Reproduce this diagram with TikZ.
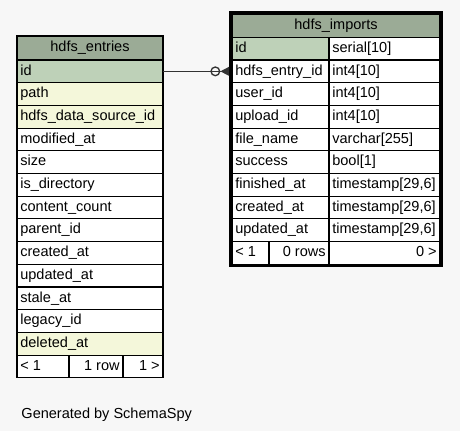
\documentclass[tikz,border=0pt]{standalone}
\usepackage{fontspec}
\setmainfont{Liberation Sans}
\usetikzlibrary{arrows.meta,positioning,fit}
\definecolor{hdrgreen}{HTML}{9BAB96}
\definecolor{pkgreen}{HTML}{BED1B8}
\definecolor{idxyellow}{HTML}{F4F7DA}
\definecolor{pagegray}{HTML}{F7F7F7}
\definecolor{linkgray}{HTML}{333333}

\begin{document}
\begin{tikzpicture}[x=0.75pt, y=-0.75pt,
    every node/.style={font=\fontsize{10.9}{13}\selectfont, inner ysep=0pt, outer sep=0pt, text height=8pt, text depth=2.4pt},
    cell/.style={draw=black, line width=0.8pt, anchor=north west, minimum height=17.03pt, fill=white, inner xsep=2.5pt},
    lcell/.style={cell, text width=#1, align=flush left},
    rcell/.style={cell, text width=#1, align=flush right},
    hdr/.style={cell, fill=hdrgreen, text width=#1, align=center},
    pk/.style={fill=pkgreen}, idx/.style={fill=idxyellow}, nofill/.style={fill=white}]
        \fill[pagegray] (0,0) rectangle (460,431);
        \useasboundingbox (0,0) rectangle (460,431);

        % hdfs_entries
        \node[hdr=104.5pt, minimum height=18pt] (eh) at (17,36) {hdfs\_entries};
        \foreach \name/\sty [count=\i] in {id/pk, path/idx, hdfs\_data\_source\_id/idx, modified\_at/nofill, size/nofill,
            is\_directory/nofill, content\_count/nofill, parent\_id/nofill, created\_at/nofill, updated\_at/nofill,
            stale\_at/nofill, legacy\_id/nofill, deleted\_at/idx} {
            \node[lcell=104.5pt, \sty] (e\i) at (17,{60+(\i-1)*22.7}) {\name};
        }
        \node[lcell=34pt] (efoot1) at (17,355.1) {< 1};
        \node[rcell=35.5pt] (efoot2) at (69,355.1) {1 row};
        \node[rcell=25pt] (efoot3) at (123,355.1) {1 >};

        % hdfs_imports
        \node[hdr=151pt, minimum height=17.1pt] (ih) at (232,14.5) {hdfs\_imports};
        \foreach \name/\type/\sty [count=\i] in {id/{serial[10]}/pk, hdfs\_entry\_id/{int4[10]}/nofill,
            user\_id/{int4[10]}/nofill, upload\_id/{int4[10]}/nofill, file\_name/{varchar[255]}/nofill,
            success/{bool[1]}/nofill, finished\_at/{timestamp[29,6]}/nofill, created\_at/{timestamp[29,6]}/nofill,
            updated\_at/{timestamp[29,6]}/nofill} {
            \node[lcell=67.75pt, \sty] (i\i) at (232,{37.3+(\i-1)*22.7}) {\name};
            \node[lcell=78.25pt] (t\i) at (329,{37.3+(\i-1)*22.7}) {\type};
        }
        \node[lcell=22.75pt] (ifoot1) at (232,241.6) {< 1};
        \node[rcell=40pt] (ifoot2) at (269,241.6) {0 rows};
        \node[rcell=78.25pt] (ifoot3) at (329,241.6) {0 >};
        \node[draw=black, line width=2.25pt, inner sep=1.125pt, fit=(ih)(ifoot3)] (imports) {};

        \draw[linkgray, line width=1pt, shorten >=2.25pt,
            -{Circle[open,length=7.5pt,width=7.5pt] Triangle[reversed,length=6.5pt,width=6.5pt]}] (e1.east) -- (i2.west);

        \node[anchor=base west] (credit) at (17,418) {Generated by SchemaSpy};
    \end{tikzpicture}
\end{document}
